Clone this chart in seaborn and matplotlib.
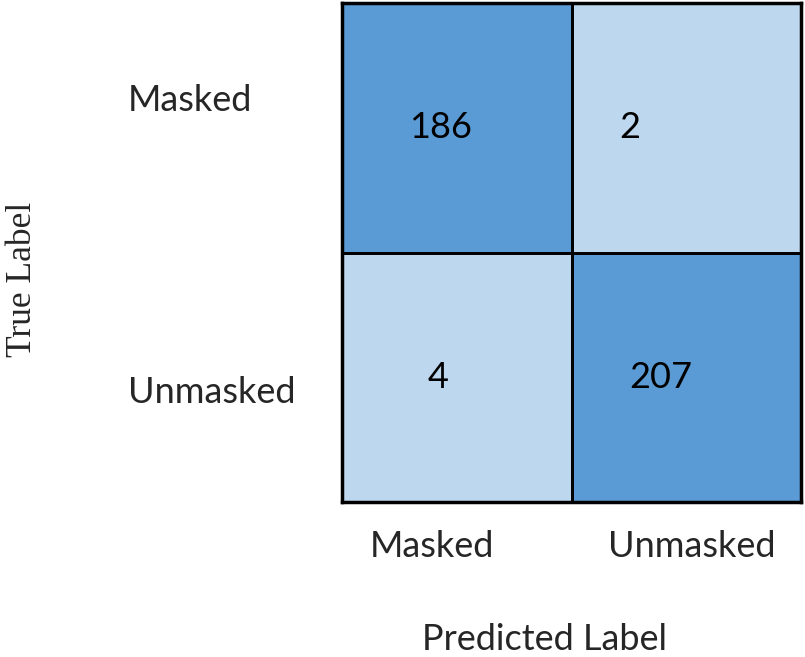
import matplotlib
matplotlib.use("Agg")
import matplotlib.pyplot as plt
import seaborn as sns
import numpy as np
from matplotlib.colors import ListedColormap

# confusion matrix values
true_labels = ['Masked', 'Unmasked']
pred_labels = ['Masked', 'Unmasked']
counts = [[186, 2],
          [4, 207]]

sns.set_theme(style="white")
plt.rcParams['font.family'] = ['Lato', 'DejaVu Sans']

cmap = ListedColormap(['#BDD7EE', '#5B9BD5'])

fig = plt.figure(figsize=(8.05, 6.57), dpi=100)
ax = fig.add_axes([0.425, 0.236, 0.570, 0.759])

sns.heatmap(np.array(counts), ax=ax, cmap=cmap, cbar=False,
            annot=True, fmt='d', annot_kws={'fontsize': 26, 'color': 'black'},
            linewidths=2, linecolor='black', vmin=0, vmax=207)

# the numbers sit a bit left of centre in the original
shift = [[-0.07, -0.245], [-0.08, -0.11]]
for t in ax.texts:
    x, y = t.get_position()
    t.set_position((x + shift[int(y)][int(x)], y))
    t.set_color('black')

for s in ax.spines.values():
    s.set_visible(True)
    s.set_color('black')
    s.set_linewidth(2.5)

ax.set_xticks([0.39, 1.525])
ax.set_xticklabels(pred_labels, fontsize=26)
ax.set_yticks([0.39, 1.56])
ax.set_yticklabels(true_labels, fontsize=26, rotation=0, ha='left')
ax.tick_params(axis='x', length=0, pad=20)
ax.tick_params(axis='y', length=0, pad=154)

ax.set_xlabel('Predicted Label', fontsize=26)
ax.set_ylabel('True Label', fontsize=25.5, family=['Liberation Serif', 'DejaVu Serif'])
ax.xaxis.set_label_coords(0.442, -0.242)
ax.yaxis.set_label_coords(-0.66, 0.447)

plt.savefig('out.png', dpi=100)
